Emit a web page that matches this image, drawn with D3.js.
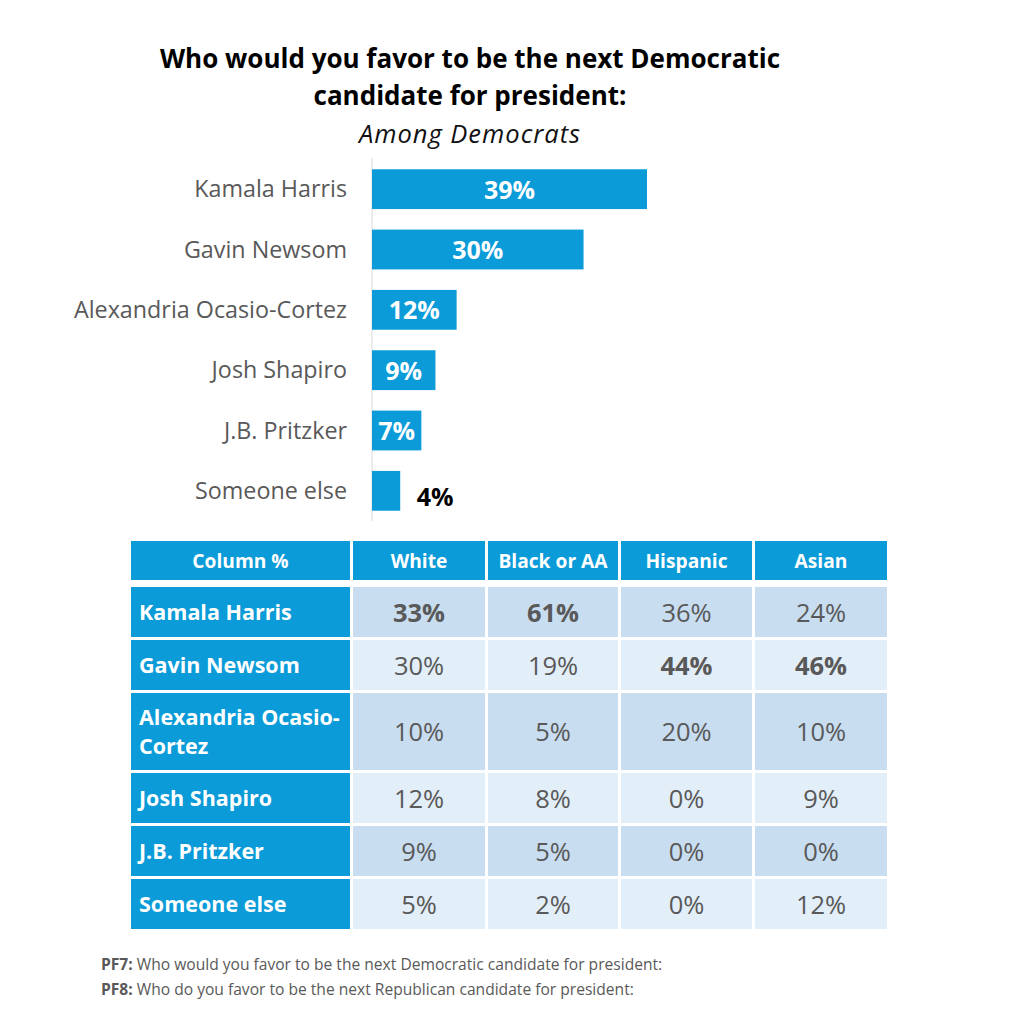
<!DOCTYPE html>
<html><head><meta charset="utf-8">
<script src="https://cdn.jsdelivr.net/npm/d3@7"></script>
<style>
html,body{margin:0;padding:0;background:#fff;}
svg{display:block;font-family:"Open Sans",Lato,sans-serif;}
</style></head>
<body>
<svg id="chart" width="1009" height="1009"></svg>
<script>
const titleLines = ["Who would you favor to be the next Democratic", "candidate for president:"];
const subtitle = "Among Democrats";
const candidates = ["Kamala Harris", "Gavin Newsom", "Alexandria Ocasio-Cortez", "Josh Shapiro", "J.B. Pritzker", "Someone else"];
const overall = [39, 30, 12, 9, 7, 4];
const groups = ["White", "Black or AA", "Hispanic", "Asian"];
const tableHeader = "Column %";
const tableNames = [["Kamala Harris"], ["Gavin Newsom"], ["Alexandria Ocasio-", "Cortez"], ["Josh Shapiro"], ["J.B. Pritzker"], ["Someone else"]];
const white = [33, 30, 10, 12, 9, 5];
const black = [61, 19, 5, 8, 5, 2];
const hispanic = [36, 44, 20, 0, 0, 0];
const asian = [24, 46, 10, 9, 0, 12];
const boldWhite = [true, false, false, false, false, false];
const boldBlack = [true, false, false, false, false, false];
const boldHispanic = [false, true, false, false, false, false];
const boldAsian = [false, true, false, false, false, false];
const notes = [["PF7:", " Who would you favor to be the next Democratic candidate for president:"],
               ["PF8:", " Who do you favor to be the next Republican candidate for president:"]];

const svg = d3.select("#chart");
const blue = "#0a9bd8";
const gray = "#595959";

// Title
svg.selectAll("text.title").data(titleLines).join("text")
  .attr("class","title")
  .attr("x", 470).attr("y", (d,i)=> 68 + i*37)
  .attr("text-anchor","middle")
  .attr("font-size", 26).attr("font-weight", 700).attr("fill","#000")
  .text(d=>d);
svg.append("text").attr("x",470).attr("y",143).attr("text-anchor","middle")
  .attr("font-size",25.5).attr("font-style","italic").attr("letter-spacing",1)
  .attr("fill","#111").text(subtitle);

// Bar chart
const x = d3.scaleLinear().domain([0, 39]).range([372, 647]);
const y = d3.scaleBand().domain(candidates).range([159, 521]).paddingInner(0.34).paddingOuter(0.17);

svg.append("line").attr("x1",372).attr("x2",372).attr("y1",158).attr("y2",521)
  .attr("stroke","#d9d9d9").attr("stroke-width",1);

svg.selectAll("rect.bar").data(candidates).join("rect")
  .attr("class","bar")
  .attr("x", x(0)).attr("y", d=>y(d))
  .attr("width", (d,i)=> x(overall[i]) - x(0))
  .attr("height", y.bandwidth())
  .attr("fill", blue);

svg.selectAll("text.cat").data(candidates).join("text")
  .attr("class","cat")
  .attr("x", 347).attr("y", d=> y(d) + y.bandwidth()/2 + 8)
  .attr("text-anchor","end").attr("font-size",23.3).attr("fill",gray)
  .text(d=>d);

svg.selectAll("text.val").data(candidates).join("text")
  .attr("class","val")
  .attr("x", (d,i)=> overall[i] >= 5 ? (x(0)+x(overall[i]))/2 : x(overall[i]) + 35)
  .attr("y", (d,i)=> y(d) + y.bandwidth()/2 + (overall[i] >= 5 ? 9.5 : 15))
  .attr("text-anchor","middle").attr("font-size",25).attr("font-weight",700)
  .attr("fill", (d,i)=> overall[i] >= 5 ? "#fff" : "#000")
  .text((d,i)=> overall[i] + "%");

// Table
const cols = [white, black, hispanic, asian];
const bolds = [boldWhite, boldBlack, boldHispanic, boldAsian];
const colX = [131, 353, 488, 621, 755];
const colW = [219, 132, 130, 131, 132];
const headerY = 541, headerH = 39;
const rowH1 = 50, rowExtra = 27, gap = 3;
let rowY = [], rowHs = [];
let cy = 587;
tableNames.forEach((n,i)=>{ const h = rowH1 + (n.length-1)*rowExtra; rowY.push(cy); rowHs.push(h); cy += h + gap; });

// header
const headerLabels = [tableHeader].concat(groups);
svg.selectAll("rect.hdr").data(headerLabels).join("rect")
  .attr("class","hdr").attr("x",(d,i)=>colX[i]).attr("y",headerY)
  .attr("width",(d,i)=>colW[i]).attr("height",headerH).attr("fill",blue);
svg.selectAll("text.hdr").data(headerLabels).join("text")
  .attr("class","hdr").attr("x",(d,i)=>colX[i]+colW[i]/2).attr("y",headerY+headerH/2+7.5)
  .attr("text-anchor","middle").attr("font-size",19.2).attr("font-weight",700).attr("fill","#fff")
  .text(d=>d);

// row name cells
const rowG = svg.selectAll("g.row").data(tableNames).join("g").attr("class","row");
rowG.append("rect").attr("x",colX[0]).attr("y",(d,i)=>rowY[i]).attr("width",colW[0])
  .attr("height",(d,i)=>rowHs[i]).attr("fill",blue);
rowG.each(function(d,i){
  const g = d3.select(this);
  const n = d.length;
  const mid = rowY[i] + rowHs[i]/2;
  d.forEach((line,j)=>{
    g.append("text").attr("x",139).attr("y", mid + (j - (n-1)/2)*29.5 + 8)
      .attr("font-size",21.5).attr("font-weight",700).attr("fill","#fff").text(line);
  });
  cols.forEach((col,c)=>{
    g.append("rect").attr("x",colX[c+1]).attr("y",rowY[i]).attr("width",colW[c+1])
      .attr("height",rowHs[i]).attr("fill", i%2===0 ? "#c8ddf0" : "#e2eef8");
    g.append("text").attr("x",colX[c+1]+colW[c+1]/2).attr("y",mid+9.5)
      .attr("text-anchor","middle").attr("font-size",25.5)
      .attr("font-weight", bolds[c][i] ? 700 : 400).attr("fill",gray)
      .text(col[i] + "%");
  });
});

// notes
const nt = svg.selectAll("text.note").data(notes).join("text")
  .attr("class","note").attr("x",101).attr("y",(d,i)=>970 + i*25)
  .attr("font-size",15.6).attr("fill",gray);
nt.append("tspan").attr("font-weight",700).text(d=>d[0]);
nt.append("tspan").text(d=>d[1]);
</script>
</body></html>
